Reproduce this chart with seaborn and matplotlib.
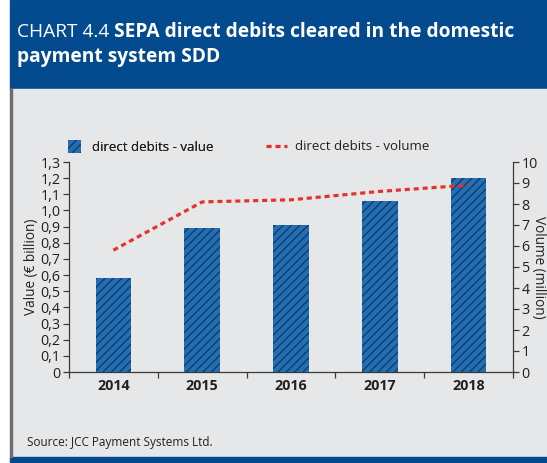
import matplotlib
matplotlib.use("Agg")
import matplotlib.pyplot as plt
import matplotlib.patches as mpatches
import matplotlib.lines as mlines
from matplotlib.ticker import FixedLocator
import seaborn as sns
import pandas as pd

# Data
years = ["2014", "2015", "2016", "2017", "2018"]
value_bn = [0.58, 0.89, 0.91, 1.06, 1.20]
volume_mn = [5.8, 8.1, 8.2, 8.6, 8.9]
value_ticks = [0, 0.1, 0.2, 0.3, 0.4, 0.5, 0.6, 0.7, 0.8, 0.9, 1.0, 1.1, 1.2, 1.3]
volume_ticks = list(range(0, 11))

BAND = "#034a8e"
PANEL = "#e6e7e8"
BAR = "#1f70b8"
HATCH = "#1c3553"
RED = "#e8312f"
AXIS = "#3a3a3a"
TEXT = "#231f20"

sns.set_theme(style="white")
plt.rcParams["font.family"] = ["Open Sans", "DejaVu Sans"]
plt.rcParams["hatch.linewidth"] = 0.9
plt.rcParams["hatch.color"] = HATCH

W, H = 547, 463
fig = plt.figure(figsize=(W / 100, H / 100), dpi=100)
fig.patch.set_facecolor("white")

def fx(px):
    return px / W

def fy(py):
    return 1 - py / H

# Background: title band, grey panel, left rule, bottom band
for rect in [
    mpatches.Rectangle((fx(10), fy(89)), fx(W - 10), 89 / H, color=BAND),
    mpatches.Rectangle((fx(10), fy(457)), fx(W - 10), 368 / H, color=PANEL),
    mpatches.Rectangle((fx(10), fy(463)), fx(W - 10), 6 / H, color=BAND),
    mpatches.Rectangle((fx(10), fy(457)), fx(2), 368 / H, color="#6d6e71"),
]:
    rect.set_transform(fig.transFigure)
    rect.set_zorder(-5)
    fig.patches.append(rect)

# Title
renderer = fig.canvas.get_renderer()
t1 = fig.text(fx(17), fy(37), "CHART 4.4 ", color="white", fontsize=13.8,
              ha="left", va="baseline")
bb = t1.get_window_extent(renderer)
fig.text(bb.x1 / W, fy(37), "SEPA direct debits cleared in the domestic", color="white",
         fontsize=13.8, fontweight="bold", ha="left", va="baseline")
fig.text(fx(17), fy(62), "payment system SDD", color="white", fontsize=13.8,
         fontweight="bold", ha="left", va="baseline")

# Axes
ax = fig.add_axes([fx(69), fy(372), fx(513 - 69), (372 - 162) / H])
ax.set_facecolor("none")

df = pd.DataFrame({"year": years, "value": value_bn, "volume": volume_mn})
sns.barplot(data=df, x="year", y="value", ax=ax, color=BAR, width=0.4,
            saturation=1, edgecolor=HATCH, linewidth=0, zorder=2)
for p in ax.patches:
    p.set_hatch("////")
    p.set_facecolor(BAR)
    p.set_edgecolor(HATCH)
    p.set_linewidth(0)

ax2 = ax.twinx()
sns.pointplot(data=df, x="year", y="volume", ax=ax2, color=RED, marker="",
              linestyle=(0, (1.6, 1.2)), linewidth=2.3)
ax2.set_facecolor("none")

for a in (ax, ax2):
    a.set_xlim(-0.5, 4.5)
ax.set_ylim(0, 1.3)
ax2.set_ylim(0, 10)

ax.set_yticks(value_ticks)
ax.set_yticklabels([f"{v:.1f}".replace(".", ",") if v else "0" for v in value_ticks])
ax2.set_yticks(volume_ticks)
ax2.set_yticklabels([str(v) for v in volume_ticks])

ax.set_xticks(range(len(years)))
ax.set_xticklabels(years, fontweight="bold")
ax.xaxis.set_minor_locator(FixedLocator([-0.5, 0.5, 1.5, 2.5, 3.5, 4.5]))
ax.tick_params(axis="x", which="major", length=0, pad=5, labelsize=10.3, colors=TEXT)
ax.tick_params(axis="x", which="minor", length=4, width=0.9, color=AXIS, bottom=True)
ax.tick_params(axis="y", length=4, width=0.9, color=AXIS, labelsize=10.3,
               labelcolor=TEXT, pad=2, left=True)
ax2.tick_params(axis="y", length=4, width=0.9, color=AXIS, labelsize=10.3,
                labelcolor=TEXT, pad=2, right=True)

for a in (ax, ax2):
    for s in a.spines.values():
        s.set_visible(False)
ax.spines["left"].set_visible(True)
ax.spines["bottom"].set_visible(True)
ax2.spines["right"].set_visible(True)
for s in (ax.spines["left"], ax.spines["bottom"], ax2.spines["right"]):
    s.set_color(AXIS)
    s.set_linewidth(0.9)

ax.set_xlabel("")
ax.set_ylabel("")
ax2.set_ylabel("")
ax2.set_xlabel("")
fig.text(fx(32), fy(267), "Value (€ billion)", rotation=90, ha="center", va="center",
         fontsize=9.8, color=TEXT)
fig.text(fx(539), fy(267), "Volume (million)", rotation=270, ha="center", va="center",
         fontsize=9.8, color=TEXT)

# Legend
bar_handle = mpatches.Patch(facecolor=BAR, edgecolor=HATCH, hatch="////", linewidth=0,
                            label="direct debits - value")
line_handle = mlines.Line2D([], [], color=RED, linestyle=(0, (1.6, 1.2)), linewidth=2.3,
                            label="direct debits - volume")
leg1 = fig.legend(handles=[bar_handle], loc="center left",
                  bbox_to_anchor=(fx(68), fy(147)), frameon=False, fontsize=9.5,
                  handlelength=1.0, handleheight=1.1, handletextpad=0.8,
                  borderpad=0, borderaxespad=0)
for t in leg1.get_texts():
    t.set_color(TEXT)
leg2 = fig.legend(handles=[line_handle], loc="center left",
                  bbox_to_anchor=(fx(266), fy(147)), frameon=False, fontsize=9.5,
                  handlelength=1.6, handletextpad=0.6, borderpad=0, borderaxespad=0)
for t in leg2.get_texts():
    t.set_color(TEXT)
fig.add_artist(leg1)

# Source
fig.text(fx(27), fy(446), "Source: JCC Payment Systems Ltd.", fontsize=8.5,
         color=TEXT, ha="left", va="baseline")

fig.savefig("out.png", dpi=100, facecolor=fig.get_facecolor())
